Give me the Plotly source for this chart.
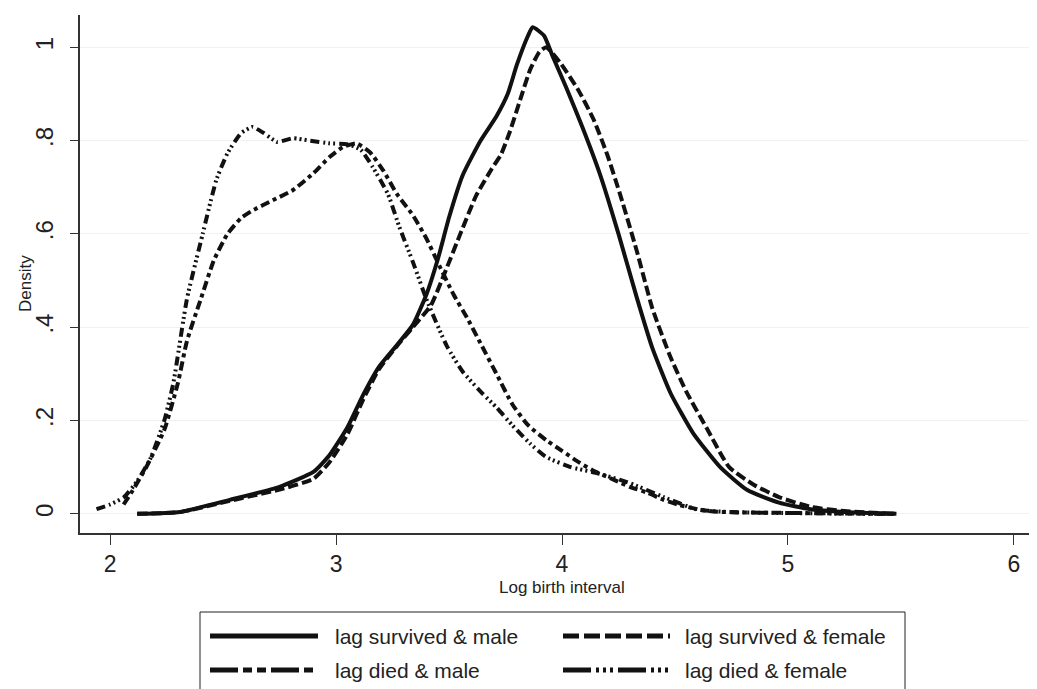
import plotly.graph_objects as go

# ---- data ----
surv_male_x = [2.12, 2.31, 2.53, 2.75, 2.90, 2.97, 3.05, 3.12, 3.19, 3.27, 3.34, 3.40, 3.45, 3.50, 3.56, 3.64, 3.71, 3.76, 3.80, 3.85, 3.87, 3.92, 3.96, 4.02, 4.09, 4.17, 4.25, 4.33, 4.40, 4.48, 4.58, 4.70, 4.82, 4.96, 5.10, 5.25, 5.48]
surv_male_y = [0.0, 0.004, 0.03, 0.058, 0.09, 0.125, 0.185, 0.255, 0.315, 0.362, 0.405, 0.47, 0.545, 0.635, 0.725, 0.80, 0.852, 0.90, 0.962, 1.025, 1.043, 1.025, 0.979, 0.912, 0.829, 0.725, 0.60, 0.465, 0.355, 0.259, 0.173, 0.10, 0.051, 0.024, 0.01, 0.004, 0.0]

surv_female_x = [2.12, 2.31, 2.53, 2.75, 2.90, 2.97, 3.05, 3.12, 3.19, 3.27, 3.34, 3.42, 3.48, 3.55, 3.62, 3.69, 3.73, 3.77, 3.81, 3.86, 3.90, 3.93, 3.99, 4.07, 4.14, 4.20, 4.26, 4.33, 4.40, 4.48, 4.55, 4.64, 4.74, 4.85, 4.96, 5.10, 5.25, 5.48]
surv_female_y = [0.0, 0.004, 0.028, 0.052, 0.075, 0.11, 0.17, 0.245, 0.31, 0.36, 0.40, 0.447, 0.515, 0.60, 0.682, 0.74, 0.77, 0.82, 0.88, 0.953, 0.99, 1.0, 0.968, 0.91, 0.845, 0.77, 0.68, 0.565, 0.44, 0.336, 0.262, 0.184, 0.10, 0.062, 0.036, 0.015, 0.006, 0.0]

died_male_x = [2.06, 2.10, 2.16, 2.24, 2.30, 2.34, 2.40, 2.46, 2.52, 2.58, 2.63, 2.72, 2.81, 2.90, 2.97, 3.03, 3.09, 3.15, 3.21, 3.27, 3.34, 3.40, 3.46, 3.52, 3.58, 3.64, 3.71, 3.78, 3.85, 3.93, 4.00, 4.08, 4.15, 4.23, 4.30, 4.38, 4.45, 4.52, 4.60, 4.67, 4.80, 5.00, 5.20, 5.48]
died_male_y = [0.02, 0.05, 0.10, 0.18, 0.28, 0.37, 0.458, 0.544, 0.60, 0.634, 0.65, 0.672, 0.694, 0.73, 0.764, 0.786, 0.794, 0.775, 0.735, 0.685, 0.64, 0.59, 0.529, 0.47, 0.42, 0.365, 0.30, 0.235, 0.19, 0.158, 0.135, 0.109, 0.09, 0.073, 0.058, 0.045, 0.03, 0.019, 0.01, 0.005, 0.003, 0.002, 0.001, 0.0]

died_female_x = [1.94, 2.00, 2.06, 2.12, 2.18, 2.24, 2.28, 2.34, 2.41, 2.47, 2.52, 2.58, 2.63, 2.68, 2.74, 2.81, 2.88, 2.97, 3.05, 3.11, 3.16, 3.23, 3.28, 3.34, 3.40, 3.49, 3.56, 3.64, 3.71, 3.78, 3.86, 3.93, 4.04, 4.15, 4.30, 4.45, 4.60, 4.75, 4.95, 5.20, 5.48]
died_female_y = [0.01, 0.02, 0.035, 0.07, 0.12, 0.20, 0.28, 0.46, 0.60, 0.715, 0.773, 0.816, 0.829, 0.816, 0.797, 0.805, 0.80, 0.794, 0.792, 0.78, 0.745, 0.685, 0.615, 0.54, 0.46, 0.36, 0.305, 0.262, 0.228, 0.19, 0.15, 0.122, 0.10, 0.088, 0.066, 0.036, 0.009, 0.004, 0.002, 0.001, 0.0]

series_names = ["lag survived & male", "lag survived & female", "lag died & male", "lag died & female"]
x_ticks = [2, 3, 4, 5, 6]
y_ticks = [0, 0.2, 0.4, 0.6, 0.8, 1.0]
y_tick_labels = ["0", ".2", ".4", ".6", ".8", "1"]
x_title = "Log birth interval"
y_title = "Density"

# ---- styling ----
FONT = "Liberation Sans, Arial, sans-serif"
INK = "#111111"
TXT = "#222222"
LW = 4
dashes = ["solid", "10px,4px", "9px,4px,4px,4px", "9px,4px,2px,3px,2px,3px,2px,4px"]
legend_dashes = ["solid", "16px,5px", "28px,5px,9px,5px,9px,5px", "28px,5px,3px,4px,3px,4px,3px,5px"]

# the page body has an 8px default margin: size the figure so it fills the window
OFF = 8
W, H = 1037 - OFF, 689 - OFF
ML, MR, MT, MB = 80 - OFF, 7, 15 - OFF, 156
PW, PH = W - ML - MR, H - MT - MB

fig = go.Figure()
data = [(surv_male_x, surv_male_y), (surv_female_x, surv_female_y),
        (died_male_x, died_male_y), (died_female_x, died_female_y)]
for (xs, ys), name, d in zip(data, series_names, dashes):
    fig.add_trace(go.Scatter(x=xs, y=ys, mode="lines", name=name,
                             line=dict(color=INK, width=LW, dash=d,
                                       shape="spline", smoothing=0.5),
                             showlegend=False))


def px_x(px):
    # window pixel -> paper coordinate
    return (px - OFF - ML) / PW


def px_y(py):
    return (H - MB - (py - OFF)) / PH


# ---- manual legend (Stata-like box below the plot) ----
fig.add_shape(type="rect", xref="paper", yref="paper",
              x0=px_x(200), x1=px_x(905), y0=px_y(612), y1=px_y(705),
              line=dict(color="#222222", width=1), fillcolor="white", layer="below")

legend_pos = [(210, 318, 333, 636), (563, 670, 683, 636),
              (210, 318, 333, 670), (563, 670, 683, 670)]
for (sx0, sx1, tx, ty), name, d in zip(legend_pos, series_names, legend_dashes):
    fig.add_shape(type="line", xref="paper", yref="paper",
                  x0=px_x(sx0), x1=px_x(sx1), y0=px_y(ty), y1=px_y(ty),
                  line=dict(color=INK, width=LW + 1, dash=d))
    fig.add_annotation(x=px_x(tx), y=px_y(ty), xref="paper", yref="paper",
                       text=name, showarrow=False, xanchor="left", yanchor="middle",
                       font=dict(family=FONT, size=21, color=TXT))

# axis titles
fig.add_annotation(x=px_x(562), y=px_y(587), xref="paper", yref="paper",
                   text=x_title, showarrow=False, xanchor="center", yanchor="middle",
                   font=dict(family=FONT, size=17, color=TXT))
fig.add_annotation(x=px_x(25), y=px_y(284), xref="paper", yref="paper",
                   text=y_title, showarrow=False, xanchor="center", yanchor="middle",
                   textangle=-90, font=dict(family=FONT, size=17, color=TXT))

fig.update_layout(
    width=W, height=H,
    margin=dict(l=ML, r=MR, t=MT, b=MB, autoexpand=False),
    paper_bgcolor="white", plot_bgcolor="white",
    font=dict(family=FONT, color=TXT),
    showlegend=False,
)
fig.update_xaxes(
    range=[1.867, 6.071], tickvals=x_ticks, ticktext=[str(t) for t in x_ticks],
    ticks="outside", ticklen=10, tickcolor="#333333", tickwidth=1,
    showline=True, linecolor="#333333", linewidth=1.5, showgrid=False, zeroline=False,
    tickfont=dict(size=23, family=FONT, color=TXT), ticklabelstandoff=0,
    automargin=False,
)
fig.update_yaxes(
    range=[-0.041, 1.069], tickvals=y_ticks, ticktext=y_tick_labels, tickangle=-90,
    ticks="outside", ticklen=8, tickcolor="#333333", tickwidth=1,
    showline=True, linecolor="#333333", linewidth=1.5,
    showgrid=True, gridcolor="#f1f1f1", gridwidth=1, zeroline=False,
    tickfont=dict(size=24, family=FONT, color=TXT), ticklabelstandoff=8,
    automargin=False,
)

fig.write_html("out.html")
